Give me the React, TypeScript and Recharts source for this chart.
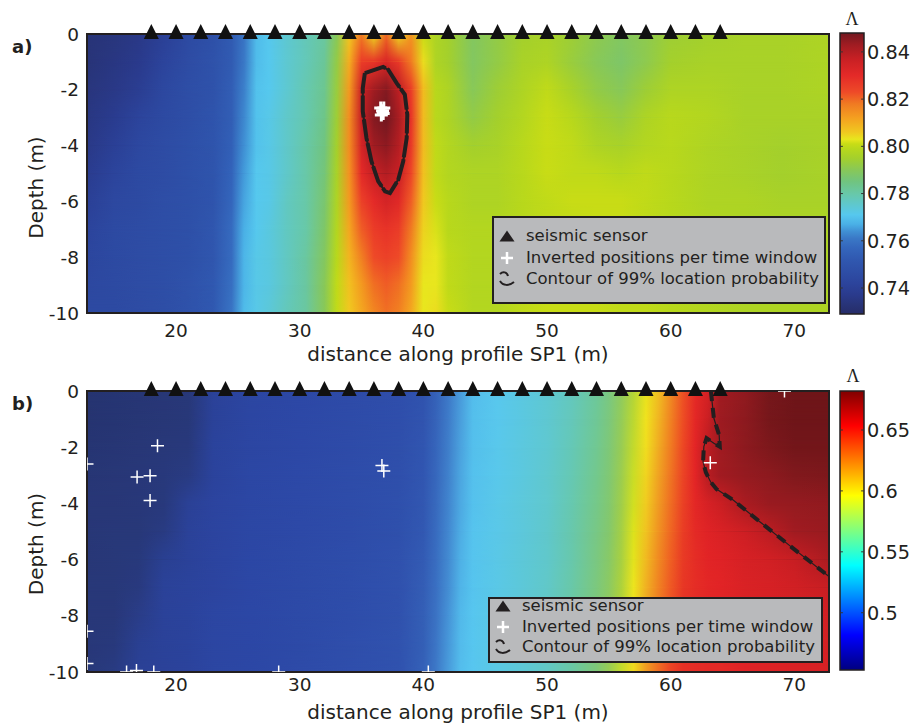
import React from "react";
import { ScatterChart, Scatter, XAxis, YAxis, ReferenceArea, ReferenceLine, Legend } from "recharts";

const FONT = '"DejaVu Sans", sans-serif';
const INK = "#231f20";

const X_DOMAIN: [number, number] = [12.8, 72.8];
const DEPTH_DOMAIN: [number, number] = [-10, 0];
const X_TICKS = [20, 30, 40, 50, 60, 70];
const DEPTH_TICKS = [0, -2, -4, -6, -8, -10];
const GRID_DEPTHS = [0, -1, -2, -3, -4, -5, -6, -7, -8, -9, -10];
const SENSOR_X = [18, 20, 22, 24, 26, 28, 30, 32, 34, 36, 38, 40, 42, 44, 46, 48, 50, 52, 54, 56, 58, 60, 62, 64];
const LEGEND_LABELS = ["seismic sensor", "Inverted positions per time window", "Contour of 99% location probability"];

// panel a: lambda, one row per depth in GRID_DEPTHS
const A_X = [12.8, 15, 17, 19, 21, 23, 24.5, 25.5, 26.5, 27.5, 29, 30.5, 32, 33, 34, 35, 36, 37, 38, 39, 40, 41, 42, 44, 46, 48, 50, 52, 54, 56, 58, 60, 63, 66, 69, 72.8];
const A_LAMBDA = [
  [0.733, 0.734, 0.736, 0.740, 0.745, 0.748, 0.753, 0.760, 0.769, 0.771, 0.775, 0.778, 0.781, 0.790, 0.806, 0.818, 0.804, 0.820, 0.804, 0.814, 0.801, 0.797, 0.795, 0.789, 0.792, 0.795, 0.796, 0.794, 0.791, 0.789, 0.791, 0.794, 0.795, 0.796, 0.796, 0.797],
  [0.733, 0.735, 0.737, 0.742, 0.746, 0.749, 0.753, 0.761, 0.769, 0.771, 0.775, 0.778, 0.782, 0.792, 0.810, 0.826, 0.828, 0.833, 0.827, 0.818, 0.804, 0.797, 0.795, 0.789, 0.792, 0.796, 0.797, 0.793, 0.790, 0.788, 0.791, 0.795, 0.796, 0.796, 0.796, 0.797],
  [0.734, 0.736, 0.739, 0.744, 0.747, 0.749, 0.754, 0.762, 0.770, 0.771, 0.775, 0.779, 0.783, 0.793, 0.813, 0.836, 0.843, 0.846, 0.839, 0.826, 0.808, 0.799, 0.797, 0.790, 0.794, 0.797, 0.800, 0.796, 0.792, 0.790, 0.794, 0.797, 0.797, 0.796, 0.796, 0.797],
  [0.735, 0.738, 0.742, 0.745, 0.747, 0.750, 0.754, 0.763, 0.770, 0.772, 0.776, 0.779, 0.784, 0.794, 0.815, 0.837, 0.846, 0.848, 0.842, 0.828, 0.808, 0.799, 0.797, 0.792, 0.795, 0.798, 0.801, 0.799, 0.795, 0.793, 0.797, 0.799, 0.798, 0.796, 0.796, 0.796],
  [0.736, 0.740, 0.744, 0.746, 0.748, 0.750, 0.755, 0.764, 0.770, 0.772, 0.776, 0.780, 0.785, 0.795, 0.815, 0.834, 0.843, 0.845, 0.840, 0.827, 0.808, 0.800, 0.798, 0.795, 0.796, 0.799, 0.801, 0.800, 0.797, 0.796, 0.798, 0.799, 0.797, 0.796, 0.795, 0.796],
  [0.738, 0.742, 0.745, 0.746, 0.748, 0.750, 0.756, 0.765, 0.771, 0.772, 0.776, 0.780, 0.786, 0.796, 0.814, 0.830, 0.837, 0.840, 0.837, 0.824, 0.807, 0.800, 0.798, 0.797, 0.797, 0.799, 0.801, 0.800, 0.800, 0.799, 0.800, 0.799, 0.797, 0.796, 0.795, 0.796],
  [0.740, 0.744, 0.745, 0.747, 0.748, 0.750, 0.757, 0.766, 0.771, 0.772, 0.777, 0.780, 0.787, 0.797, 0.813, 0.825, 0.830, 0.834, 0.831, 0.821, 0.806, 0.801, 0.799, 0.797, 0.797, 0.799, 0.800, 0.801, 0.801, 0.801, 0.800, 0.799, 0.797, 0.797, 0.796, 0.796],
  [0.742, 0.745, 0.746, 0.747, 0.748, 0.751, 0.758, 0.767, 0.771, 0.773, 0.777, 0.780, 0.788, 0.798, 0.811, 0.821, 0.826, 0.828, 0.826, 0.818, 0.805, 0.802, 0.799, 0.798, 0.798, 0.799, 0.800, 0.800, 0.801, 0.801, 0.800, 0.799, 0.798, 0.797, 0.797, 0.797],
  [0.743, 0.745, 0.746, 0.747, 0.748, 0.751, 0.758, 0.768, 0.772, 0.773, 0.777, 0.781, 0.789, 0.799, 0.809, 0.817, 0.823, 0.825, 0.823, 0.815, 0.804, 0.803, 0.800, 0.798, 0.798, 0.800, 0.800, 0.800, 0.801, 0.801, 0.800, 0.799, 0.798, 0.797, 0.797, 0.797],
  [0.744, 0.745, 0.746, 0.747, 0.749, 0.752, 0.759, 0.768, 0.772, 0.773, 0.777, 0.781, 0.790, 0.800, 0.807, 0.813, 0.819, 0.821, 0.819, 0.813, 0.803, 0.803, 0.800, 0.798, 0.798, 0.800, 0.801, 0.801, 0.801, 0.800, 0.800, 0.799, 0.798, 0.797, 0.797, 0.797],
  [0.745, 0.745, 0.746, 0.747, 0.749, 0.752, 0.760, 0.769, 0.772, 0.774, 0.778, 0.781, 0.790, 0.800, 0.806, 0.811, 0.816, 0.819, 0.817, 0.811, 0.803, 0.804, 0.801, 0.798, 0.798, 0.800, 0.801, 0.801, 0.801, 0.800, 0.800, 0.799, 0.798, 0.797, 0.797, 0.797],
];
const A_HITS = [
  { x: 36.55, y: -2.65 }, { x: 36.8, y: -2.65 }, { x: 36.6, y: -2.9 }, { x: 36.75, y: -2.85 }, { x: 36.7, y: -2.75 },
];
const A_CONTOUR = [
  { x: 35.27, y: -1.4 }, { x: 36.75, y: -1.18 }, { x: 37.16, y: -1.28 }, { x: 37.84, y: -1.76 }, { x: 38.5, y: -2.17 },
  { x: 38.7, y: -2.89 }, { x: 38.65, y: -3.73 }, { x: 38.37, y: -4.56 }, { x: 37.97, y: -5.22 }, { x: 37.3, y: -5.7 },
  { x: 36.9, y: -5.64 }, { x: 36.35, y: -5.28 }, { x: 35.8, y: -4.56 }, { x: 35.4, y: -3.73 }, { x: 35.1, y: -2.77 },
  { x: 35.1, y: -1.94 }, { x: 35.27, y: -1.4 },
];
const A_CB_DOMAIN: [number, number] = [0.729, 0.848];
const A_CB_TICKS = [0.74, 0.76, 0.78, 0.8, 0.82, 0.84];

// panel b
const B_X = [12.8, 15, 17, 19, 21, 23, 26, 30, 34, 38, 40, 41, 42, 43, 44, 46, 48, 50, 52, 54, 55, 56, 57, 58, 59, 60, 61, 62, 63, 64, 66, 68, 70, 72.8];
const B_LAMBDA = [
  [0.463, 0.464, 0.465, 0.466, 0.467, 0.477, 0.480, 0.483, 0.486, 0.489, 0.494, 0.503, 0.513, 0.524, 0.535, 0.541, 0.546, 0.551, 0.558, 0.568, 0.574, 0.582, 0.590, 0.598, 0.608, 0.620, 0.636, 0.648, 0.655, 0.668, 0.672, 0.679, 0.681, 0.681],
  [0.463, 0.464, 0.465, 0.466, 0.467, 0.477, 0.480, 0.483, 0.486, 0.489, 0.495, 0.504, 0.514, 0.525, 0.536, 0.541, 0.546, 0.552, 0.559, 0.569, 0.575, 0.583, 0.591, 0.600, 0.610, 0.622, 0.637, 0.649, 0.658, 0.669, 0.673, 0.679, 0.681, 0.681],
  [0.464, 0.465, 0.466, 0.467, 0.468, 0.478, 0.480, 0.483, 0.486, 0.490, 0.496, 0.505, 0.515, 0.526, 0.536, 0.542, 0.547, 0.552, 0.560, 0.570, 0.576, 0.584, 0.592, 0.601, 0.612, 0.624, 0.639, 0.650, 0.662, 0.668, 0.673, 0.677, 0.680, 0.680],
  [0.465, 0.466, 0.467, 0.468, 0.470, 0.478, 0.481, 0.484, 0.487, 0.490, 0.497, 0.506, 0.516, 0.527, 0.537, 0.542, 0.547, 0.553, 0.561, 0.571, 0.577, 0.585, 0.593, 0.603, 0.614, 0.626, 0.640, 0.650, 0.663, 0.668, 0.671, 0.673, 0.676, 0.677],
  [0.466, 0.466, 0.467, 0.468, 0.476, 0.479, 0.481, 0.484, 0.487, 0.491, 0.498, 0.507, 0.517, 0.528, 0.537, 0.543, 0.548, 0.553, 0.562, 0.572, 0.578, 0.586, 0.594, 0.605, 0.616, 0.628, 0.641, 0.649, 0.654, 0.658, 0.666, 0.670, 0.671, 0.672],
  [0.466, 0.467, 0.467, 0.470, 0.477, 0.479, 0.481, 0.484, 0.487, 0.491, 0.499, 0.508, 0.518, 0.529, 0.538, 0.543, 0.548, 0.554, 0.563, 0.573, 0.579, 0.587, 0.596, 0.607, 0.618, 0.630, 0.642, 0.648, 0.651, 0.653, 0.657, 0.662, 0.668, 0.670],
  [0.466, 0.467, 0.468, 0.475, 0.477, 0.479, 0.482, 0.485, 0.488, 0.492, 0.500, 0.509, 0.519, 0.530, 0.538, 0.544, 0.549, 0.554, 0.563, 0.574, 0.580, 0.588, 0.597, 0.609, 0.620, 0.632, 0.643, 0.647, 0.650, 0.651, 0.654, 0.656, 0.659, 0.666],
  [0.467, 0.467, 0.469, 0.477, 0.478, 0.479, 0.482, 0.485, 0.488, 0.492, 0.501, 0.510, 0.520, 0.531, 0.538, 0.544, 0.549, 0.555, 0.564, 0.575, 0.581, 0.589, 0.599, 0.611, 0.622, 0.634, 0.644, 0.647, 0.649, 0.650, 0.653, 0.654, 0.656, 0.659],
  [0.467, 0.467, 0.472, 0.477, 0.478, 0.480, 0.482, 0.485, 0.488, 0.492, 0.502, 0.511, 0.522, 0.533, 0.539, 0.545, 0.550, 0.555, 0.564, 0.575, 0.582, 0.590, 0.600, 0.613, 0.624, 0.636, 0.645, 0.647, 0.649, 0.649, 0.652, 0.653, 0.654, 0.656],
  [0.467, 0.468, 0.475, 0.477, 0.478, 0.480, 0.482, 0.485, 0.489, 0.493, 0.502, 0.512, 0.523, 0.534, 0.539, 0.545, 0.550, 0.556, 0.565, 0.576, 0.583, 0.591, 0.601, 0.614, 0.626, 0.638, 0.646, 0.647, 0.648, 0.649, 0.651, 0.652, 0.653, 0.655],
  [0.467, 0.470, 0.476, 0.477, 0.478, 0.480, 0.482, 0.486, 0.489, 0.493, 0.503, 0.513, 0.524, 0.535, 0.539, 0.545, 0.550, 0.556, 0.565, 0.576, 0.584, 0.592, 0.602, 0.616, 0.628, 0.640, 0.646, 0.647, 0.648, 0.648, 0.651, 0.652, 0.653, 0.654],
];
const B_HITS = [
  { x: 18.5, y: -1.95 }, { x: 16.85, y: -3.06 }, { x: 17.9, y: -3.02 }, { x: 17.9, y: -3.9 },
  { x: 36.65, y: -2.65 }, { x: 36.8, y: -2.85 }, { x: 12.8, y: -2.6 }, { x: 12.8, y: -8.55 }, { x: 12.8, y: -9.7 },
  { x: 16.0, y: -10 }, { x: 16.8, y: -9.95 }, { x: 18.2, y: -10 }, { x: 28.3, y: -10 }, { x: 40.4, y: -10 },
  { x: 63.2, y: -2.55 }, { x: 69.2, y: 0 },
];
const B_CONTOUR = [
  { x: 63.25, y: 0 }, { x: 63.49, y: -0.97 }, { x: 63.92, y: -1.57 }, { x: 63.97, y: -1.98 }, { x: 63.49, y: -1.86 },
  { x: 62.9, y: -1.68 }, { x: 62.68, y: -1.98 }, { x: 62.62, y: -2.52 }, { x: 62.84, y: -2.89 }, { x: 63.22, y: -3.23 },
  { x: 63.7, y: -3.49 }, { x: 65.05, y: -3.88 }, { x: 67.2, y: -4.65 }, { x: 69.9, y: -5.6 }, { x: 72.8, y: -6.6 },
];
const B_CB_DOMAIN: [number, number] = [0.453, 0.682];
const B_CB_TICKS = [0.5, 0.55, 0.6, 0.65];

type Stop = [number, string];

// colour scales
const A_CMAP: Stop[] = [
  [0.729, "#262c68"], [0.733, "#283478"], [0.737, "#2a3a8c"], [0.742, "#2c449c"], [0.747, "#2e4ea6"],
  [0.752, "#3058b0"], [0.757, "#3466bc"], [0.761, "#3a78c6"], [0.764, "#4090d4"], [0.767, "#4ab0e6"],
  [0.771, "#56c8ee"], [0.775, "#5ec8d0"], [0.78, "#68c8a8"], [0.785, "#70c480"], [0.79, "#88c858"],
  [0.795, "#a4d02c"], [0.799, "#b8d81c"], [0.801, "#c8dc16"], [0.803, "#e8e61e"], [0.806, "#f0c820"],
  [0.812, "#f4a020"], [0.818, "#f07a22"], [0.823, "#ee4a28"], [0.83, "#e42a28"], [0.837, "#c82024"],
  [0.843, "#a01c22"], [0.848, "#721820"],
];
const B_MUTED: Stop[] = [
  [0, "#20285e"], [0.06, "#283878"], [0.12, "#2c46a4"], [0.2, "#3258b2"], [0.25, "#3a70c2"], [0.3, "#4692d6"],
  [0.34, "#50b4e8"], [0.38, "#58c8f0"], [0.44, "#60c8cc"], [0.5, "#6cc89c"], [0.55, "#84c86c"], [0.59, "#a8d040"],
  [0.62, "#d8e21c"], [0.64, "#f0e41e"], [0.69, "#f0b022"], [0.74, "#f08022"], [0.8, "#ee5024"], [0.86, "#e22426"],
  [0.9, "#c81e23"], [0.94, "#a01b21"], [0.97, "#841a1e"], [1, "#6c1418"],
];
const JET: Stop[] = [
  [0, "#000080"], [0.125, "#0000ff"], [0.375, "#00ffff"], [0.625, "#ffff00"], [0.875, "#ff0000"], [1, "#800000"],
];

const hexRgb = (h: string) => [1, 3, 5].map((i) => parseInt(h.slice(i, i + 2), 16));
const colorAt = (stops: Stop[], v: number) => {
  if (v <= stops[0][0]) return stops[0][1];
  for (let i = 1; i < stops.length; i++) {
    if (v <= stops[i][0]) {
      const f = (v - stops[i - 1][0]) / (stops[i][0] - stops[i - 1][0]);
      const a = hexRgb(stops[i - 1][1]);
      const b = hexRgb(stops[i][1]);
      return `rgb(${a.map((c, k) => Math.round(c + (b[k] - c) * f)).join(",")})`;
    }
  }
  return stops[stops.length - 1][1];
};
const toValues = (stops: Stop[], [lo, hi]: [number, number]): Stop[] =>
  stops.map(([t, c]) => [lo + t * (hi - lo), c] as Stop);
const B_MAP = toValues(B_MUTED, B_CB_DOMAIN);
const B_BAR = toValues(JET, B_CB_DOMAIN);

const SENSORS = SENSOR_X.map((x) => ({ x, y: 0 }));

const noMark = () => <g />;
const triangleMark = (p: any) => (
  <path d={`M${p.cx} ${p.cy - 10}L${p.cx + 7.5} ${p.cy + 5}L${p.cx - 7.5} ${p.cy + 5}Z`} fill="#111" />
);
const crossMark = (w: number) => (p: any) => (
  <path d={`M${p.cx - 6.5} ${p.cy}H${p.cx + 6.5}M${p.cx} ${p.cy - 6.5}V${p.cy + 6.5}`} stroke="#fff" strokeWidth={w} fill="none" />
);

// rows are drawn as horizontal gradients; each band fades into the next row
function heatmap(id: string, xs: number[], rows: number[][], color: (v: number) => string) {
  const x0 = xs[0];
  const x1 = xs[xs.length - 1];
  const defs = (
    <defs key={`${id}-defs`}>
      {rows.map((row, r) => (
        <linearGradient key={r} id={`${id}-r${r}`} x1="0" y1="0" x2="1" y2="0">
          {row.map((v, i) => (
            <stop key={i} offset={(xs[i] - x0) / (x1 - x0)} stopColor={color(v)} />
          ))}
        </linearGradient>
      ))}
      <linearGradient id={`${id}-fadeg`} x1="0" y1="0" x2="0" y2="1">
        <stop offset="0" stopColor="#fff" stopOpacity={0} />
        <stop offset="1" stopColor="#fff" stopOpacity={1} />
      </linearGradient>
      <mask id={`${id}-fade`} maskContentUnits="objectBoundingBox">
        <rect x="0" y="0" width="1" height="1" fill={`url(#${id}-fadeg)`} />
      </mask>
    </defs>
  );
  const bands = GRID_DEPTHS.slice(0, -1).map((d, r) => (
    <ReferenceArea
      key={`${id}-band${r}`}
      x1={x0}
      x2={x1}
      y1={d}
      y2={GRID_DEPTHS[r + 1]}
      ifOverflow="visible"
      shape={(p: any) => (
        <g>
          <rect x={p.x} y={p.y} width={p.width} height={p.height} fill={`url(#${id}-r${r})`} shapeRendering="crispEdges" />
          <rect
            x={p.x}
            y={p.y}
            width={p.width}
            height={p.height}
            fill={`url(#${id}-r${r + 1})`}
            mask={`url(#${id}-fade)`}
            shapeRendering="crispEdges"
          />
        </g>
      )}
    />
  ));
  return [defs, ...bands];
}

const legendIcon = (i: number) => {
  if (i === 0) return <path d="M13 4.5L20.5 15.5L5.5 15.5Z" fill={INK} />;
  if (i === 1) return <path d="M7 10H19M13 4V16" stroke="#fff" strokeWidth={2.5} />;
  return (
    <g fill="none" stroke={INK} strokeWidth={2}>
      <path d="M6 5C9 2 13 3 14 7" />
      <path d="M6 12C9 17 15 17 20 13" />
    </g>
  );
};

function LegendBox({ centers }: { centers: number[] }) {
  return (
    <div
      style={{
        position: "relative",
        width: "100%",
        height: "100%",
        boxSizing: "border-box",
        background: "#b9babc",
        border: `2px solid ${INK}`,
        fontFamily: FONT,
        fontSize: 16.5,
        color: INK,
      }}
    >
      {LEGEND_LABELS.map((label, i) => (
        <div
          key={label}
          style={{
            position: "absolute",
            left: 0,
            top: centers[i] - 12,
            height: 20,
            lineHeight: "20px",
            display: "flex",
            alignItems: "center",
            whiteSpace: "nowrap",
          }}
        >
          <svg width={32} height={20} style={{ flex: "none" }}>
            {legendIcon(i)}
          </svg>
          <span>{label}</span>
        </div>
      ))}
    </div>
  );
}

type PanelProps = {
  id: string;
  top: number;
  height: number;
  marginTop: number;
  xAxisHeight: number;
  tickMargin: number;
  labelOffset: number;
  xs: number[];
  rows: number[][];
  color: (v: number) => string;
  hits: { x: number; y: number }[];
  hitWidth: number;
  contour: { x: number; y: number }[];
  thin: number;
  dash: string;
  legend: { left: number; top: number; width: number; height: number; centers: number[] };
};

function Panel(p: PanelProps) {
  const tick = { fill: INK, fontSize: 18.5, fontFamily: FONT };
  return (
    <div style={{ position: "absolute", left: 0, top: p.top }}>
      <ScatterChart width={912} height={p.height} margin={{ top: p.marginTop, right: 83, bottom: 0, left: 0 }}>
        {heatmap(p.id, p.xs, p.rows, p.color)}
        <ReferenceArea
          x1={X_DOMAIN[0]}
          x2={X_DOMAIN[1]}
          y1={0}
          y2={-10}
          fill="none"
          stroke={INK}
          strokeWidth={2}
          ifOverflow="visible"
        />
        <XAxis
          type="number"
          dataKey="x"
          domain={X_DOMAIN}
          ticks={X_TICKS}
          allowDataOverflow
          height={p.xAxisHeight}
          axisLine={false}
          tickLine={false}
          tickMargin={p.tickMargin}
          tick={tick}
          label={{
            value: "distance along profile SP1 (m)",
            position: "insideBottom",
            offset: p.labelOffset,
            fill: INK,
            fontSize: 20,
            fontFamily: FONT,
          }}
        />
        <YAxis
          type="number"
          dataKey="y"
          domain={DEPTH_DOMAIN}
          ticks={DEPTH_TICKS}
          allowDataOverflow
          width={87}
          axisLine={false}
          tickLine={false}
          tick={tick}
        />
        <XAxis xAxisId="s" type="number" dataKey="x" domain={X_DOMAIN} hide />
        <YAxis yAxisId="s" type="number" dataKey="y" domain={DEPTH_DOMAIN} hide />
        <Scatter data={p.contour} line={{ stroke: INK, strokeWidth: p.thin }} shape={noMark} isAnimationActive={false} />
        <Scatter
          data={p.contour}
          line={{ stroke: INK, strokeWidth: 4, strokeDasharray: p.dash }}
          shape={noMark}
          isAnimationActive={false}
        />
        <Scatter data={p.hits} shape={crossMark(p.hitWidth)} isAnimationActive={false} />
        <Scatter data={SENSORS} xAxisId="s" yAxisId="s" shape={triangleMark} isAnimationActive={false} />
        <Legend
          layout="vertical"
          align="center"
          verticalAlign="middle"
          wrapperStyle={{ left: p.legend.left, top: p.legend.top, width: p.legend.width, height: p.legend.height }}
          content={() => <LegendBox centers={p.legend.centers} />}
        />
      </ScatterChart>
    </div>
  );
}

type BarProps = {
  id: string;
  top: number;
  height: number;
  marginTop: number;
  marginBottom: number;
  domain: [number, number];
  ticks: number[];
  stops: Stop[];
  format: (v: number) => string;
};

function ColorBar(p: BarProps) {
  const [lo, hi] = p.domain;
  const stops = [...p.stops].reverse();
  const ends = [{ x: 0.5, y: lo }, { x: 0.5, y: hi }];
  return (
    <div style={{ position: "absolute", left: 838, top: p.top }}>
      <ScatterChart width={74} height={p.height} margin={{ top: p.marginTop, right: 0, bottom: p.marginBottom, left: 2 }}>
        <defs>
          <linearGradient id={`${p.id}-cb`} x1="0" y1="0" x2="0" y2="1">
            {stops.map(([v, c], i) => (
              <stop key={i} offset={Math.min(1, Math.max(0, (hi - v) / (hi - lo)))} stopColor={c} />
            ))}
          </linearGradient>
        </defs>
        <XAxis type="number" dataKey="x" domain={[0, 1]} hide />
        <YAxis
          type="number"
          dataKey="y"
          orientation="right"
          domain={p.domain}
          ticks={p.ticks}
          width={48}
          axisLine={false}
          tickLine={false}
          tickSize={0}
          tickMargin={3}
          tickFormatter={p.format}
          tick={{ fill: INK, fontSize: 19.3, fontFamily: FONT }}
        />
        <ReferenceArea
          x1={0}
          x2={1}
          y1={lo}
          y2={hi}
          fill={`url(#${p.id}-cb)`}
          fillOpacity={1}
          stroke={INK}
          strokeWidth={1.5}
          ifOverflow="visible"
        />
        {p.ticks.map((v) => (
          <ReferenceLine
            key={`l${v}`}
            segment={[{ x: 0, y: v }, { x: 0.12, y: v }]}
            stroke="#333"
            strokeWidth={1}
            ifOverflow="visible"
          />
        ))}
        {p.ticks.map((v) => (
          <ReferenceLine
            key={`r${v}`}
            segment={[{ x: 0.88, y: v }, { x: 1, y: v }]}
            stroke="#333"
            strokeWidth={1}
            ifOverflow="visible"
          />
        ))}
        <Scatter data={ends} shape={noMark} isAnimationActive={false} />
      </ScatterChart>
    </div>
  );
}

export default function App() {
  return (
    <div style={{ position: "absolute", left: 0, top: 0, width: 912, height: 723, background: "#fff" }}>
      <Panel
        id="pa"
        top={0}
        height={370}
        marginTop={34}
        xAxisHeight={57}
        tickMargin={4.5}
        labelOffset={9}
        xs={A_X}
        rows={A_LAMBDA}
        color={(v) => colorAt(A_CMAP, v)}
        hits={A_HITS}
        hitWidth={3}
        contour={A_CONTOUR}
        thin={2.2}
        dash="22 2"
        legend={{ left: 492, top: 216, width: 334, height: 88, centers: [20, 42, 63] }}
      />
      <Panel
        id="pb"
        top={362}
        height={361}
        marginTop={29}
        xAxisHeight={51}
        tickMargin={0}
        labelOffset={4}
        xs={B_X}
        rows={B_LAMBDA}
        color={(v) => colorAt(B_MAP, v)}
        hits={B_HITS}
        hitWidth={1.5}
        contour={B_CONTOUR}
        thin={1.2}
        dash="10 7"
        legend={{ left: 488, top: 235, width: 335, height: 66, centers: [9, 30, 50] }}
      />
      <ColorBar
        id="ca"
        top={0}
        height={370}
        marginTop={33}
        marginBottom={56}
        domain={A_CB_DOMAIN}
        ticks={A_CB_TICKS}
        stops={A_CMAP}
        format={(v) => v.toFixed(2)}
      />
      <ColorBar
        id="cb"
        top={362}
        height={361}
        marginTop={29}
        marginBottom={53}
        domain={B_CB_DOMAIN}
        ticks={B_CB_TICKS}
        stops={B_BAR}
        format={(v) => String(v)}
      />
      <svg width={912} height={723} style={{ position: "absolute", left: 0, top: 0, pointerEvents: "none" }}>
        <g fontFamily={FONT} fill={INK}>
          <text x={12} y={52.5} fontSize={18} fontWeight="bold">a)</text>
          <text x={12} y={409.5} fontSize={18} fontWeight="bold">b)</text>
          <text transform="translate(42.7,187.5) rotate(-90)" textAnchor="middle" fontSize={20}>Depth (m)</text>
          <text transform="translate(42.7,544) rotate(-90)" textAnchor="middle" fontSize={20}>Depth (m)</text>
        </g>
        <g fontFamily='"Liberation Serif", serif' fill={INK} fontSize={18} textAnchor="middle">
          <text x={852} y={25}>Λ</text>
          <text x={853} y={382}>Λ</text>
        </g>
      </svg>
    </div>
  );
}
